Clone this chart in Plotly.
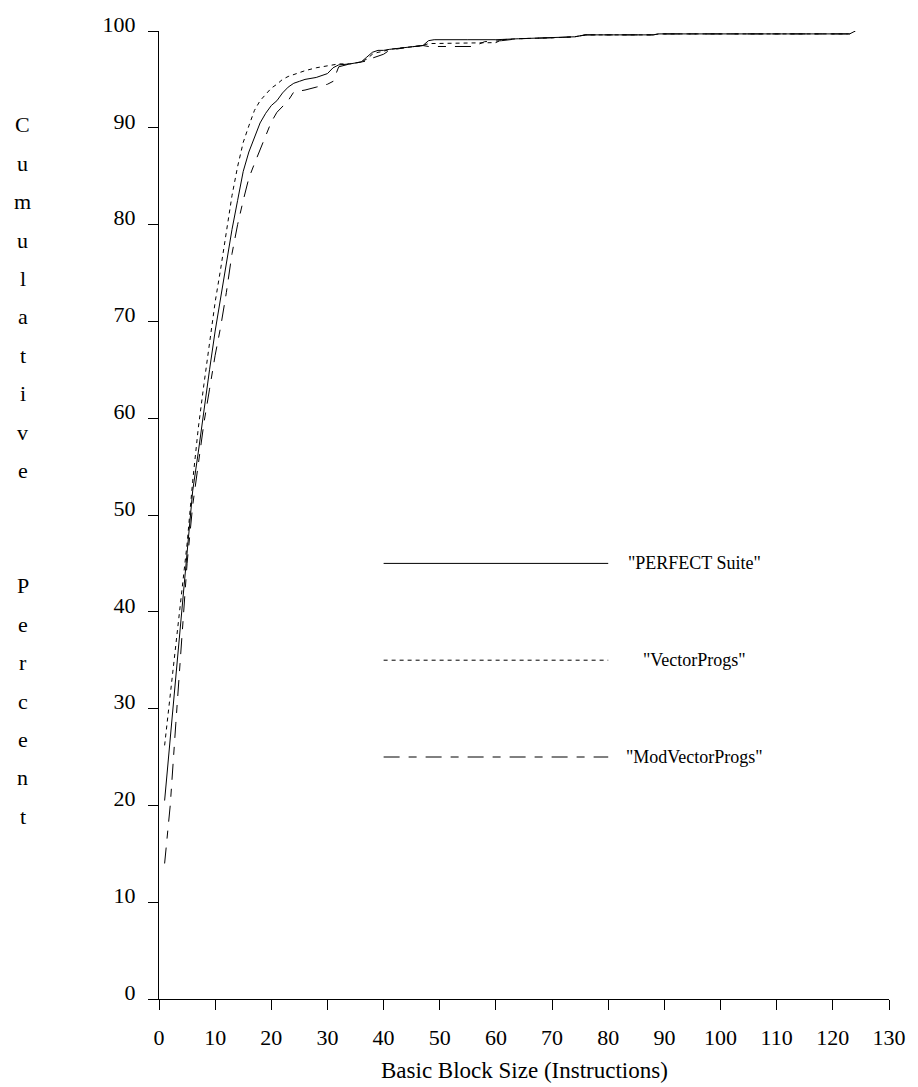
import plotly.graph_objects as go

# ---------------- data ----------------
x_perfect = [1, 2, 3, 4, 5, 6, 7, 8, 9, 10, 11, 12, 13, 14, 15, 16, 17, 18, 19, 20,
             21, 22, 23, 24, 25, 26, 28, 30, 31, 32, 34, 36, 37, 38, 39, 40, 41, 44,
             47, 48, 49, 55, 60, 64, 70, 74, 76, 88, 89, 123, 124]
y_perfect = [20.5, 27.0, 33.5, 40.0, 46.5, 52.5, 56.5, 61.0, 65.0, 69.0, 72.5, 76.3,
             79.5, 82.5, 85.5, 87.5, 89.0, 90.5, 91.5, 92.3, 92.8, 93.6, 94.2, 94.6,
             94.8, 95.0, 95.2, 95.6, 96.2, 96.5, 96.6, 96.8, 97.3, 97.8, 98.0, 98.0,
             98.1, 98.3, 98.5, 99.0, 99.1, 99.1, 99.1, 99.2, 99.3, 99.4, 99.6, 99.6,
             99.7, 99.7, 100.0]

x_vector = [1, 2, 3, 4, 5, 6, 7, 8, 9, 10, 11, 12, 13, 14, 15, 16, 17, 18, 19, 20,
            21, 22, 23, 24, 26, 28, 30, 32, 34, 36, 37, 38, 39, 40, 41, 44, 47, 48,
            55, 60, 61, 64, 70, 74, 76, 88, 89, 123, 124]
y_vector = [26.2, 31.5, 36.5, 41.5, 47.0, 53.5, 59.0, 63.5, 68.0, 72.0, 75.5, 79.5,
            83.0, 86.0, 88.5, 90.2, 91.8, 92.8, 93.5, 94.1, 94.5, 95.0, 95.3, 95.5,
            95.9, 96.2, 96.4, 96.6, 96.6, 96.8, 97.1, 97.6, 97.8, 97.9, 98.1, 98.3,
            98.5, 98.7, 98.8, 98.8, 99.1, 99.2, 99.3, 99.4, 99.6, 99.6, 99.7, 99.7,
            100.0]

x_modvector = [1, 2, 3, 4, 5, 6, 7, 8, 9, 10, 11, 12, 13, 14, 15, 16, 17, 18, 19, 20,
               21, 22, 23, 24, 26, 28, 30, 31, 32, 34, 36, 37, 38, 39, 40, 41, 44, 47,
               48, 56, 58, 61, 64, 70, 74, 76, 88, 89, 123, 124]
y_modvector = [14.0, 20.0, 28.5, 37.0, 45.0, 51.0, 55.5, 59.5, 63.0, 66.5, 69.5, 73.0,
               77.0, 80.0, 82.5, 84.8, 86.3, 87.7, 89.3, 90.6, 91.6, 92.2, 92.8, 93.7,
               93.9, 94.2, 94.5, 94.8, 96.3, 96.6, 96.8, 96.9, 97.2, 97.4, 97.6, 98.0,
               98.3, 98.5, 98.4, 98.4, 98.9, 99.0, 99.2, 99.3, 99.4, 99.6, 99.6, 99.7,
               99.7, 100.0]

series_names = ['"PERFECT Suite"', '"VectorProgs"', '"ModVectorProgs"']
legend_y = [45, 35, 25]
legend_x = [40, 80]
legend_text_x = 95.4

x_ticks = list(range(0, 131, 10))
y_ticks = list(range(0, 101, 10))
x_title = "Basic Block Size (Instructions)"
y_title_rows = list("Cumulative") + ["", ""] + list("Percent")

# ---------------- figure ----------------
FONT = "Liberation Serif, Times New Roman, serif"
dashes = ["solid", "4px,4px", "16px,9px,8px,9px"]

fig = go.Figure()
for xs, ys, dash in zip([x_perfect, x_vector, x_modvector],
                        [y_perfect, y_vector, y_modvector], dashes):
    fig.add_trace(go.Scatter(x=xs, y=ys, mode="lines",
                             line=dict(color="black", width=1, dash=dash),
                             showlegend=False, hoverinfo="skip"))

# key samples drawn as lines in data space
for ly, dash, name in zip(legend_y, dashes, series_names):
    fig.add_trace(go.Scatter(x=legend_x, y=[ly, ly], mode="lines",
                             line=dict(color="black", width=1, dash=dash),
                             showlegend=False, hoverinfo="skip"))
    fig.add_annotation(x=legend_text_x, y=ly, xref="x", yref="y", text=name,
                       showarrow=False, xanchor="center", yanchor="middle",
                       font=dict(family=FONT, size=18, color="black"))

W, H = 918, 1087
L, R, T, B = 159, 20, 29, 88
plot_h = H - T - B

# vertical, letter-stacked y title
for i, ch in enumerate(y_title_rows):
    if not ch:
        continue
    py = 123 + i * 38.5
    fig.add_annotation(x=(21 - L) / (W - L - R), y=(H - B - py) / plot_h,
                       xref="paper", yref="paper", text=ch, showarrow=False,
                       xanchor="center", yanchor="middle",
                       font=dict(family=FONT, size=22, color="black"))

fig.add_annotation(x=0.5, y=(H - B - 1071) / plot_h, xref="paper", yref="paper",
                   text=x_title, showarrow=False, xanchor="center", yanchor="middle",
                   font=dict(family=FONT, size=23, color="black"))

axis_common = dict(showgrid=False, zeroline=False, showline=True, linecolor="black",
                   linewidth=1.3, ticks="outside", ticklen=10, tickwidth=1.3,
                   tickcolor="black", tickfont=dict(family=FONT, size=22, color="black"))

fig.update_xaxes(range=[0, 130], tickvals=x_ticks, ticklabelstandoff=8, **axis_common)
fig.update_yaxes(range=[0, 100], tickvals=y_ticks, ticklabelstandoff=8,
                 ticklabelshift=-7, **axis_common)

fig.update_layout(width=W, height=H, margin=dict(l=L, r=R, t=T, b=B),
                  plot_bgcolor="white", paper_bgcolor="white", showlegend=False)

fig.write_html("out.html", config={"displayModeBar": False},
               post_script="document.body.style.margin='0';"
                           "document.body.style.overflow='hidden';")
